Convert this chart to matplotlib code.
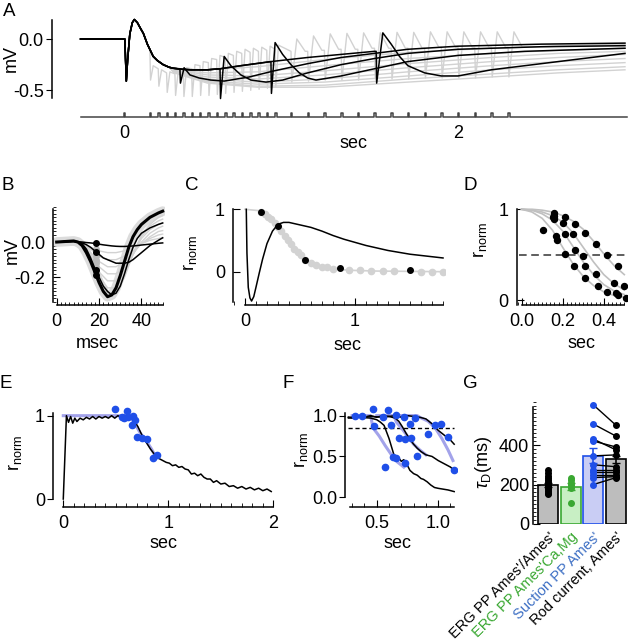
import matplotlib
matplotlib.use("Agg")
import matplotlib.pyplot as plt
from matplotlib.ticker import MultipleLocator

plt.rcParams['font.family'] = ['Liberation Sans', 'DejaVu Sans']
plt.rcParams['mathtext.fontset'] = 'custom'
plt.rcParams['mathtext.rm'] = 'Liberation Sans'
plt.rcParams['mathtext.it'] = 'Liberation Sans:italic'
plt.rcParams['font.size'] = 13
plt.rcParams['axes.linewidth'] = 1.1

W, H = 628, 640
GRAY = '#d2d2d2'
BLUE = '#1f4fe8'
LAV = '#a3a3ea'
GREEN = '#3aa832'
SBLUE = '#3d6fc4'

# ---------------- panel A: paired flash / flicker ERG (mV vs sec)
a_first_t = [-0.26, 0.0, 0.005, 0.014, 0.022, 0.035, 0.05, 0.062, 0.08, 0.1, 0.116, 0.14, 0.175, 0.2, 0.235, 0.27]
a_first_v = [0.0, 0.0, 0.0, -0.41, -0.20, 0.05, 0.16, 0.19, 0.16, 0.10, 0.055, -0.05, -0.17, -0.21, -0.25, -0.275]
a_single_t = [0.295, 0.35, 0.4, 0.5, 0.575, 0.7, 0.88, 1.1, 1.3, 1.5]
a_single_v = [-0.285, -0.295, -0.30, -0.30, -0.29, -0.26, -0.22, -0.18, -0.15, -0.12]

a_pair_flash = [0.335, 0.575, 0.88, 1.51]
a_pair_pre = [-0.29, -0.29, -0.22, -0.12]
a_pair_t = [
    [0.338, 0.36, 0.395, 0.45, 0.52, 0.6, 0.75, 0.9, 1.1, 1.3, 1.5, 1.7, 2.0, 2.5, 3.0],
    [0.578, 0.60, 0.64, 0.7, 0.76, 0.85, 0.95, 1.1, 1.3, 1.5, 1.7, 2.0, 2.5, 3.0],
    [0.883, 0.905, 0.95, 1.0, 1.05, 1.1, 1.15, 1.3, 1.5, 1.7, 2.0, 2.4, 3.0],
    [1.513, 1.55, 1.6, 1.65, 1.7, 1.8, 1.9, 2.0, 2.2, 2.5, 2.8, 3.0],
]
a_pair_v = [
    [-0.43, -0.28, -0.35, -0.38, -0.40, -0.41, -0.37, -0.31, -0.24, -0.18, -0.14, -0.10, -0.07, -0.05, -0.04],
    [-0.58, -0.17, -0.26, -0.35, -0.40, -0.42, -0.40, -0.33, -0.25, -0.19, -0.14, -0.10, -0.075, -0.065],
    [-0.53, -0.035, -0.15, -0.25, -0.33, -0.38, -0.40, -0.36, -0.29, -0.22, -0.16, -0.12, -0.09],
    [-0.43, 0.06, -0.05, -0.17, -0.26, -0.33, -0.36, -0.36, -0.30, -0.24, -0.18, -0.14],
]

a_gray_t = [0.3, 0.5, 0.8, 1.2, 1.7, 2.2, 2.6, 3.0]
a_gray_v = [
    [-0.29, -0.30, -0.27, -0.20, -0.13, -0.09, -0.07, -0.06],
    [-0.30, -0.33, -0.32, -0.26, -0.19, -0.14, -0.11, -0.09],
    [-0.30, -0.35, -0.36, -0.31, -0.24, -0.18, -0.14, -0.12],
    [-0.31, -0.37, -0.39, -0.35, -0.28, -0.22, -0.18, -0.15],
    [-0.31, -0.39, -0.42, -0.39, -0.32, -0.26, -0.22, -0.19],
    [-0.32, -0.41, -0.44, -0.42, -0.36, -0.30, -0.26, -0.23],
    [-0.32, -0.42, -0.46, -0.45, -0.39, -0.34, -0.30, -0.27],
    [-0.33, -0.43, -0.47, -0.47, -0.42, -0.37, -0.33, -0.30],
]

fast_t = [0.155, 0.205, 0.255, 0.305, 0.355, 0.405, 0.455, 0.505,
          0.555, 0.605, 0.655, 0.705, 0.755, 0.805, 0.855, 0.905]
fast_pre = [-0.10, -0.29, -0.33, -0.34, -0.32, -0.29, -0.26, -0.23,
            -0.20, -0.18, -0.16, -0.14, -0.13, -0.12, -0.11, -0.10]
fast_trough = [-0.40, -0.46, -0.52, -0.55, -0.56, -0.56, -0.55, -0.55,
               -0.54, -0.53, -0.52, -0.51, -0.50, -0.49, -0.48, -0.47]
fast_peak = [-0.26, -0.30, -0.32, -0.31, -0.28, -0.25, -0.22, -0.19,
             -0.16, -0.14, -0.12, -0.10, -0.09, -0.08, -0.07, -0.06]
slow_t = [1.0, 1.1, 1.2, 1.3, 1.4, 1.5, 1.6, 1.7, 1.8, 1.9, 2.0, 2.1, 2.2, 2.3]
slow_pre = [-0.12, -0.12, -0.11, -0.10, -0.10, -0.09, -0.09,
            -0.09, -0.09, -0.08, -0.08, -0.08, -0.08, -0.08]
slow_trough = [-0.42, -0.41, -0.40, -0.40, -0.40, -0.39, -0.39,
               -0.39, -0.38, -0.38, -0.38, -0.38, -0.37, -0.37]
slow_peak = [0.0, 0.03, 0.05, 0.055, 0.06, 0.06, 0.065,
             0.065, 0.07, 0.07, 0.07, 0.07, 0.07, 0.07]
flick_tail_t = [2.45, 2.6, 3.0]
flick_tail_v = [-0.08, -0.07, -0.05]

stim_t = [0.0] + fast_t + slow_t

# ---------------- panel B: a-wave detail (mV vs msec)
b_t = [0, 4, 8, 10, 12, 14, 16, 18, 20, 22, 24, 26, 28, 30, 32, 34, 36, 38, 40, 44, 48, 50]
b_black = [
    [0, 0.003, 0.006, 0.0, -0.02, -0.06, -0.11, -0.17, -0.23, -0.28, -0.31, -0.30, -0.26, -0.19, -0.11, -0.03, 0.03, 0.07, 0.10, 0.14, 0.165, 0.175],
    [0, 0.003, 0.005, 0.0, -0.01, -0.04, -0.09, -0.15, -0.20, -0.25, -0.28, -0.30, -0.29, -0.25, -0.18, -0.10, -0.03, 0.02, 0.05, 0.08, 0.10, 0.108],
    [0, 0.003, 0.004, 0.0, -0.005, -0.015, -0.03, -0.05, -0.07, -0.09, -0.10, -0.11, -0.12, -0.12, -0.12, -0.115, -0.10, -0.08, -0.06, -0.02, 0.01, 0.024],
    [0, 0.002, 0.003, 0.002, 0.0, -0.003, -0.005, -0.008, -0.012, -0.016, -0.019, -0.022, -0.024, -0.025, -0.025, -0.024, -0.022, -0.02, -0.017, -0.012, -0.007, -0.005],
]
b_gt = [0, 8, 12, 16, 20, 24, 28, 32, 36, 40, 44, 48, 50]
b_gray = [
    [0, 0.004, -0.005, -0.03, -0.05, -0.06, -0.06, -0.05, -0.03, -0.01, 0.01, 0.02, 0.025],
    [0, 0.004, -0.008, -0.04, -0.08, -0.10, -0.10, -0.08, -0.05, -0.01, 0.02, 0.04, 0.045],
    [0, 0.004, -0.01, -0.06, -0.11, -0.14, -0.14, -0.11, -0.06, -0.01, 0.03, 0.06, 0.065],
    [0, 0.005, -0.01, -0.07, -0.14, -0.18, -0.18, -0.14, -0.07, 0.0, 0.05, 0.08, 0.09],
    [0, 0.005, -0.015, -0.08, -0.17, -0.22, -0.22, -0.16, -0.07, 0.02, 0.07, 0.10, 0.11],
    [0, 0.005, -0.015, -0.09, -0.19, -0.26, -0.26, -0.18, -0.07, 0.03, 0.09, 0.12, 0.13],
    [0, 0.005, -0.02, -0.10, -0.21, -0.29, -0.29, -0.20, -0.07, 0.04, 0.10, 0.14, 0.15],
]
b_dot_t = 18.5
b_dot_black = [-0.008, -0.055, -0.16, -0.185]
b_dot_gray = [-0.04, -0.06, -0.08, -0.10, -0.12, -0.14, -0.17]

# ---------------- panel C
c_t = [0.012, 0.018, 0.03, 0.045, 0.06, 0.08, 0.1, 0.13, 0.16, 0.2, 0.25, 0.3, 0.35, 0.4,
       0.5, 0.6, 0.7, 0.8, 0.9, 1.0, 1.1, 1.2, 1.3, 1.4, 1.5, 1.6, 1.7, 1.8]
c_r = [1.0, 0.3, -0.25, -0.42, -0.47, -0.40, -0.25, -0.02, 0.2, 0.45, 0.65, 0.76, 0.79, 0.79,
       0.75, 0.71, 0.65, 0.58, 0.52, 0.47, 0.42, 0.38, 0.34, 0.31, 0.28, 0.26, 0.24, 0.22]
c_fit_t = [0.0, 0.12, 0.15, 0.2, 0.25, 0.3, 0.35, 0.4, 0.45, 0.5, 0.55, 0.6, 0.7, 0.8,
           0.9, 1.0, 1.2, 1.5, 1.8]
c_fit_r = [1.0, 0.98, 0.96, 0.9, 0.82, 0.72, 0.6, 0.47, 0.35, 0.26, 0.19, 0.14, 0.08, 0.05,
           0.03, 0.02, 0.01, 0.005, 0.0]
c_gdot_t = [0.15, 0.18, 0.21, 0.24, 0.27, 0.30, 0.33, 0.36, 0.39, 0.42, 0.45, 0.48, 0.51,
            0.55, 0.60, 0.65, 0.70, 0.75, 0.80, 0.95, 1.05, 1.15, 1.25, 1.35, 1.6, 1.7, 1.8]
c_gdot_r = [0.96, 0.93, 0.88, 0.84, 0.78, 0.72, 0.65, 0.58, 0.51, 0.44, 0.37, 0.31, 0.26,
            0.19, 0.14, 0.11, 0.08, 0.07, 0.05, 0.03, 0.02, 0.015, 0.01, 0.01, 0.0, 0.0, 0.0]
c_bdot_t = [0.15, 0.30, 0.55, 0.86, 1.5]
c_bdot_r = [0.96, 0.73, 0.19, 0.055, 0.03]

# ---------------- panel D
d_t = [0, 0.05, 0.1, 0.15, 0.2, 0.25, 0.3, 0.35, 0.4, 0.45, 0.5]
d_fits = [
    [1.0, 0.97, 0.90, 0.77, 0.58, 0.40, 0.26, 0.16, 0.09, 0.05, 0.03],
    [1.0, 0.99, 0.95, 0.88, 0.76, 0.59, 0.42, 0.28, 0.17, 0.10, 0.06],
    [1.0, 0.99, 0.97, 0.93, 0.86, 0.74, 0.58, 0.42, 0.28, 0.18, 0.11],
    [1.0, 1.0, 0.99, 0.97, 0.93, 0.87, 0.78, 0.65, 0.51, 0.38, 0.28],
]
d_dot_t = [0.106, 0.16, 0.16, 0.16, 0.155, 0.21, 0.20, 0.26, 0.21, 0.165, 0.17, 0.25, 0.26, 0.21,
           0.31, 0.30, 0.36, 0.255, 0.31, 0.415, 0.36, 0.31, 0.37, 0.45, 0.47, 0.415, 0.46, 0.47,
           0.51, 0.50]
d_dot_r = [0.77, 0.96, 0.93, 0.89, 0.91, 0.92, 0.85, 0.84, 0.73, 0.70, 0.66, 0.73, 0.55, 0.51,
           0.74, 0.49, 0.62, 0.37, 0.37, 0.50, 0.29, 0.24, 0.15, 0.19, 0.375, 0.085, 0.075, 0.05,
           0.02, 0.15]
d_half = 0.5

# ---------------- panel E
e_t = [0, 0.03, 0.05, 0.07, 0.09, 0.11, 0.13, 0.16, 0.19, 0.22, 0.25, 0.28, 0.31, 0.34, 0.37,
       0.40, 0.43, 0.46, 0.49, 0.52, 0.55, 0.58, 0.62, 0.65, 0.68, 0.71, 0.74, 0.77, 0.80, 0.83,
       0.86, 0.89, 0.92, 0.95, 0.98, 1.01, 1.04, 1.07, 1.10, 1.13, 1.16, 1.19, 1.22, 1.25, 1.28,
       1.31, 1.34, 1.37, 1.40, 1.43, 1.46, 1.50, 1.54, 1.58, 1.62, 1.66, 1.70, 1.74, 1.78, 1.82,
       1.86, 1.90, 1.94, 1.98]
e_r = [0, 1.0, 0.92, 0.99, 0.91, 0.97, 0.93, 0.97, 0.95, 0.98, 0.96, 0.99, 0.96, 0.99, 0.97,
       0.99, 0.97, 1.0, 0.97, 1.0, 0.98, 1.0, 0.99, 0.97, 0.93, 0.87, 0.79, 0.72, 0.66, 0.60,
       0.55, 0.50, 0.48, 0.46, 0.44, 0.43, 0.40, 0.41, 0.38, 0.39, 0.36, 0.35, 0.30, 0.31, 0.28,
       0.30, 0.26, 0.24, 0.24, 0.20, 0.22, 0.18, 0.19, 0.15, 0.16, 0.13, 0.15, 0.12, 0.14, 0.11,
       0.13, 0.10, 0.12, 0.09]
e_fit_t = [0.0, 0.59, 0.64, 0.68, 0.72, 0.76, 0.80, 0.84, 0.87]
e_fit_r = [1.0, 1.0, 0.98, 0.91, 0.82, 0.74, 0.68, 0.60, 0.53]
e_dot_t = [0.49, 0.556, 0.578, 0.61, 0.62, 0.66, 0.65, 0.683, 0.70, 0.746, 0.794, 0.85, 0.89]
e_dot_r = [1.077, 0.98, 0.968, 1.06, 0.99, 0.996, 0.888, 0.948, 0.74, 0.728, 0.716, 0.49, 0.53]

# ---------------- panel F
f_traces_t = [
    [0.27, 0.3, 0.35, 0.4, 0.45, 0.5, 0.55, 0.6, 0.65, 0.7, 0.75, 0.8, 0.85, 0.9, 0.95, 1.0, 1.05, 1.1, 1.13],
    [0.27, 0.35, 0.45, 0.55, 0.6, 0.65, 0.68, 0.71, 0.74, 0.77, 0.8, 0.83, 0.86, 0.9, 0.95, 1.0, 1.05, 1.1, 1.13],
    [0.27, 0.35, 0.45, 0.5, 0.53, 0.56, 0.58, 0.60, 0.62, 0.64, 0.66, 0.68, 0.70, 0.72, 0.74, 0.77, 0.80,
     0.83, 0.86, 0.88, 0.91, 0.94, 0.97, 1.0, 1.04, 1.08, 1.13],
]
f_traces_r = [
    [0.98, 0.97, 0.99, 0.98, 1.0, 0.98, 1.0, 0.99, 1.0, 0.98, 1.0, 0.99, 0.98, 0.96, 0.9, 0.82, 0.76, 0.70, 0.65],
    [0.98, 0.98, 0.99, 0.98, 0.99, 0.97, 0.93, 0.86, 0.78, 0.71, 0.65, 0.60, 0.56, 0.52, 0.50, 0.45, 0.41, 0.37, 0.33],
    [0.97, 0.98, 0.97, 0.95, 0.92, 0.88, 0.80, 0.72, 0.62, 0.52, 0.47, 0.48, 0.44, 0.46, 0.42, 0.33, 0.29,
     0.27, 0.23, 0.22, 0.19, 0.15, 0.12, 0.11, 0.10, 0.09, 0.07],
]
f_fit_t = [
    [0.30, 0.45, 0.47, 0.52, 0.57, 0.62, 0.67, 0.72],
    [0.50, 0.64, 0.66, 0.70, 0.75, 0.80, 0.85, 0.90],
    [0.60, 0.83, 0.85, 0.92, 0.98, 1.03, 1.08, 1.12],
]
f_fit_r = [
    [1.0, 1.0, 0.85, 0.75, 0.63, 0.52, 0.43, 0.37],
    [1.0, 1.0, 0.92, 0.85, 0.75, 0.65, 0.58, 0.52],
    [1.0, 1.0, 0.98, 0.93, 0.84, 0.72, 0.58, 0.45],
]
f_dot_t = [0.32, 0.38, 0.47, 0.48, 0.55, 0.59, 0.62, 0.66, 0.72, 0.77, 0.81, 0.68, 0.73, 0.78,
           0.63, 0.57, 0.66, 0.73, 0.83, 0.92, 0.97, 1.02, 1.08, 1.13]
f_dot_r = [1.0, 1.0, 1.077, 0.87, 0.987, 1.07, 0.885, 1.007, 0.987, 0.897, 0.966, 0.72, 0.71, 0.72,
           0.49, 0.375, 0.478, 0.42, 0.50, 0.78, 0.88, 0.90, 0.74, 0.34]
f_thresh = 0.85

# ---------------- panel G
g_names = ["ERG PP Ames'/Ames'", "ERG PP Ames'Ca,Mg", "Suction PP Ames'", "Rod current, Ames'"]
g_mean = [197, 189, 345, 327]
g_err = [10, 18, 38, 18]
g_erg = [272, 258, 245, 235, 225, 215, 205, 198, 190, 182, 175, 165, 155, 150]
g_ergcm = [235, 225, 210, 195, 183, 105]
g_suction = [603, 506, 430, 420, 345, 300, 275, 262, 250, 235, 200]
g_rod = [500, 445, 375, 390, 350, 290, 275, 262, 250, 240, 235]


fig = plt.figure(figsize=(W / 100, H / 100), dpi=100)


def add_ax(left, top, right, bottom):
    ax = fig.add_axes([left / W, 1 - bottom / H, (right - left) / W, (bottom - top) / H])
    ax.patch.set_alpha(0)
    for s in ['top', 'right']:
        ax.spines[s].set_visible(False)
    return ax


def ftext(x, y, s, **kw):
    kw.setdefault('ha', 'center')
    kw.setdefault('va', 'center')
    fig.text(x / W, 1 - y / H, s, **kw)


RN = r'$\mathrm{r}_{\mathrm{norm}}$'

# ===== A
ax = add_ax(52, 15, 628, 121)
ax.set_xlim(-0.431, 3.018)
ax.set_ylim(-0.799, 0.234)
for gv in a_gray_v:
    ax.plot(a_first_t + a_gray_t, a_first_v + gv, color=GRAY, lw=1.0)
# flicker train
ft = [t for t in a_first_t if t < fast_t[0]]
fv = a_first_v[:len(ft)]
for i in range(len(fast_t)):
    ft += [fast_t[i], fast_t[i] + 0.004, fast_t[i] + 0.02]
    fv += [fast_pre[i], fast_trough[i], fast_peak[i]]
for i in range(len(slow_t)):
    nxt = slow_pre[i + 1] if i + 1 < len(slow_pre) else flick_tail_v[0]
    ft += [slow_t[i], slow_t[i] + 0.005, slow_t[i] + 0.035, slow_t[i] + 0.085]
    fv += [slow_pre[i], slow_trough[i], slow_peak[i], nxt]
ft += flick_tail_t
fv += flick_tail_v
ax.plot(ft, fv, color=GRAY, lw=1.0)
for k in range(len(a_pair_flash)):
    tt = a_first_t + [t for t in a_single_t if t < a_pair_flash[k]]
    vv = a_first_v + [v for t, v in zip(a_single_t, a_single_v) if t < a_pair_flash[k]]
    tt += [a_pair_flash[k]] + a_pair_t[k]
    vv += [a_pair_pre[k]] + a_pair_v[k]
    ax.plot(tt, vv, color='black', lw=1.1)
# stimulus marker row
base, hgt, wid = -0.763, 0.045, 0.009
st, sv = [-0.26], [base]
for t in stim_t:
    st += [t, t, t + wid, t + wid]
    sv += [base, base + hgt, base + hgt, base]
st.append(3.01)
sv.append(base)
ax.plot(st, sv, color='#444444', lw=1.1)
ax.spines['bottom'].set_visible(False)
ax.spines['left'].set_bounds(-0.575, 0.19)
ax.set_yticks([-0.5, 0.0])
ax.set_yticklabels(['-0.5', '0.0'])
ax.set_xticks([0, 2])
ax.set_xticklabels(['0', '2'])
ax.tick_params(axis='x', length=0, pad=3)
ax.tick_params(axis='y', direction='out', length=4, pad=2)
ftext(11, 59, 'mV', rotation=90)
ftext(353, 143, 'sec')
ftext(9, 12, 'A', fontsize=13.5)

# ===== B
ax = add_ax(53.3, 205, 165, 305)
ax.set_xlim(-1.6, 51.1)
ax.set_ylim(-0.357, 0.21)
ax.plot(b_t, b_black[0], color='#dcdcdc', lw=7, solid_capstyle='round')
for gv in b_gray:
    ax.plot(b_gt, gv, color=GRAY, lw=1.0)
ax.plot([b_dot_t] * len(b_dot_gray), b_dot_gray, 'o', color='#bbbbbb', ms=4)
ax.plot(b_t, b_black[0], color='black', lw=2.2)
for bv in b_black[1:]:
    ax.plot(b_t, bv, color='black', lw=1.1)
ax.plot([b_dot_t] * len(b_dot_black), b_dot_black, 'o', color='black', ms=4)
ax.spines['left'].set_bounds(-0.34, 0.187)
ax.spines['bottom'].set_bounds(0, 50)
ax.set_yticks([-0.2, 0.0])
ax.set_yticklabels(['-0.2', '0.0'])
ax.yaxis.set_minor_locator(MultipleLocator(0.02))
ax.set_xticks([0, 20, 40])
ax.xaxis.set_minor_locator(MultipleLocator(2))
ax.tick_params(which='both', direction='in')
ax.tick_params(which='major', length=5, pad=6)
ax.tick_params(which='minor', length=2.5)
ftext(12, 250, 'mV', rotation=90)
ftext(97, 343, 'msec')
ftext(8, 185, 'B', fontsize=13.5)

# ===== C
ax = add_ax(233.3, 205, 445, 305)
ax.set_xlim(-0.106, 1.818)
ax.set_ylim(-0.534, 1.069)
ax.plot(c_fit_t, c_fit_r, color=GRAY, lw=1.2)
ax.plot(c_gdot_t, c_gdot_r, 'o', color=GRAY, ms=4.5)
ax.plot(c_t, c_r, color='black', lw=1.1)
ax.plot(c_bdot_t, c_bdot_r, 'o', color='black', ms=4)
ax.spines['left'].set_bounds(-0.48, 1.0)
ax.spines['bottom'].set_bounds(0, 1.8)
ax.set_yticks([0, 1])
ax.set_xticks([0, 1])
ax.xaxis.set_minor_locator(MultipleLocator(0.1))
ax.tick_params(which='both', direction='in')
ax.tick_params(which='major', length=5, pad=6)
ax.tick_params(which='minor', length=3)
ftext(190, 253, RN, rotation=90)
ftext(347, 345, 'sec')
ftext(192, 185, 'C', fontsize=13.5)

# ===== D
ax = add_ax(516.7, 205, 628, 305)
ax.set_xlim(-0.024, 0.518)
ax.set_ylim(-0.055, 1.047)
for dv in d_fits:
    ax.plot(d_t, dv, color='#c0c0c0', lw=1.2)
ax.axhline(d_half, xmin=0.02, xmax=0.99, color='#333333', lw=1.1, ls=(0, (5, 3)))
ax.plot(d_dot_t, d_dot_r, 'o', color='black', ms=4.3)
ax.spines['left'].set_bounds(-0.055, 1.0)
ax.spines['bottom'].set_bounds(0, 0.5)
ax.set_yticks([0, 1])
ax.set_xticks([0.0, 0.2, 0.4])
ax.set_xticklabels(['0.0', '0.2', '0.4'])
ax.xaxis.set_minor_locator(MultipleLocator(0.02))
ax.tick_params(which='both', direction='in')
ax.tick_params(which='major', length=5, pad=6)
ax.tick_params(which='minor', length=2.5)
ftext(480, 240, RN, rotation=90)
ftext(582, 343, 'sec')
ftext(470, 185, 'D', fontsize=13.5)

# ===== E
ax = add_ax(53.3, 405, 275, 506.7)
ax.set_xlim(-0.095, 2.016)
ax.set_ylim(-0.092, 1.128)
ax.plot(e_fit_t, e_fit_r, color=LAV, lw=2.2)
ax.plot(e_t, e_r, color='black', lw=1.1)
ax.plot(e_dot_t, e_dot_r, 'o', color=BLUE, ms=4.5)
ax.spines['left'].set_bounds(0, 1.03)
ax.spines['bottom'].set_bounds(0, 2)
ax.set_yticks([0, 1])
ax.set_xticks([0, 1, 2])
ax.xaxis.set_minor_locator(MultipleLocator(0.1))
ax.tick_params(axis='y', direction='out', length=4, pad=2)
ax.tick_params(axis='x', which='both', direction='in')
ax.tick_params(axis='x', which='major', length=5, pad=6)
ax.tick_params(axis='x', which='minor', length=3)
ftext(15, 453, RN, rotation=90)
ftext(163, 543, 'sec')
ftext(6, 383, 'E', fontsize=13.5)

# ===== F
ax = add_ax(345, 405, 457, 506.7)
ax.set_xlim(0.242, 1.153)
ax.set_ylim(-0.115, 1.13)
ax.axhline(f_thresh, xmin=0.03, xmax=0.97, color='black', lw=1.0, ls=(0, (3, 2)))
for tt, rr in zip(f_fit_t, f_fit_r):
    ax.plot(tt, rr, color=LAV, lw=2.2)
for tt, rr in zip(f_traces_t, f_traces_r):
    ax.plot(tt, rr, color='black', lw=1.1)
ax.plot(f_dot_t, f_dot_r, 'o', color=BLUE, ms=4.5)
ax.spines['left'].set_bounds(0, 1.03)
ax.spines['bottom'].set_bounds(0.28, 1.13)
ax.set_yticks([0.0, 0.5, 1.0])
ax.set_yticklabels(['0.0', '0.5', '1.0'])
ax.set_xticks([0.5, 1.0])
ax.set_xticklabels(['0.5', '1.0'])
ax.xaxis.set_minor_locator(MultipleLocator(0.1))
ax.tick_params(axis='y', direction='out', length=4, pad=1.5)
ax.tick_params(axis='x', which='both', direction='in')
ax.tick_params(axis='x', which='major', length=5, pad=6)
ax.tick_params(axis='x', which='minor', length=3)
ftext(301, 450, RN, rotation=90)
ftext(398, 543, 'sec')
ftext(288, 383, 'F', fontsize=13.5)

# ===== G
ax = add_ax(533.3, 400, 628, 524)
ax.set_xlim(-0.66, 3.53)
ax.set_ylim(0, 628)
face = ['#bdbdbd', '#c8efc4', '#c9cdf4', '#bdbdbd']
edge = ['black', GREEN, BLUE, 'black']
for i in range(4):
    ax.bar(i, g_mean[i], width=0.88, color=face[i], edgecolor=edge[i], lw=1.2, zorder=1)
    ax.errorbar(i, g_mean[i], yerr=g_err[i], color=edge[i], capsize=3, lw=1.2, zorder=4)
for a, b in zip(g_suction, g_rod):
    ax.plot([2, 3], [a, b], color='black', lw=1.0, zorder=2)
ax.plot([0] * len(g_erg), g_erg, 'o', color='black', ms=4, zorder=3)
ax.plot([1] * len(g_ergcm), g_ergcm, 'o', color=GREEN, ms=4, zorder=3)
ax.plot([2] * len(g_suction), g_suction, 'o', color=BLUE, ms=4, zorder=3)
ax.plot([3] * len(g_rod), g_rod, 'o', color='black', ms=4, zorder=3)
ax.spines['bottom'].set_visible(False)
ax.spines['left'].set_bounds(0, 594)
ax.set_yticks([0, 200, 400])
ax.yaxis.set_minor_locator(MultipleLocator(20))
ax.tick_params(axis='y', which='both', direction='in')
ax.tick_params(axis='y', which='major', length=5, pad=3)
ax.tick_params(axis='y', which='minor', length=2.5)
ax.set_xticks([0, 1, 2, 3])
ax.set_xticklabels(g_names, rotation=45, ha='right', rotation_mode='anchor', fontsize=10.5)
ax.tick_params(axis='x', length=0, pad=4)
for lab, c in zip(ax.get_xticklabels(), ['black', GREEN, SBLUE, 'black']):
    lab.set_color(c)
ftext(483, 462, r'$\tau_{\mathrm{D}}$(ms)', rotation=90)
ftext(470, 383, 'G', fontsize=13.5)

fig.savefig('out.png', dpi=100)
